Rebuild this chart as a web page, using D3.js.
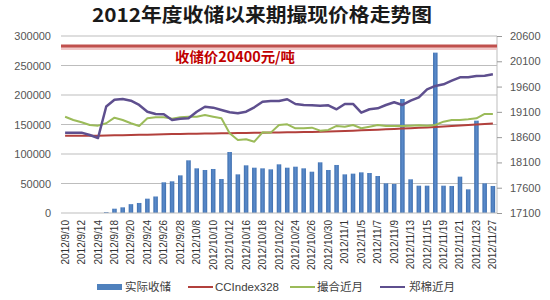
<!DOCTYPE html>
<html>
<head>
<meta charset="utf-8">
<script src="https://cdn.jsdelivr.net/npm/d3@7"></script>
<style>
  body { margin: 0; background: #fff; }
  svg { display: block; }
</style>
</head>
<body>
<svg id="chart"></svg>
<script>
// trading days, 2012/9/10 .. 2012/11/27
const dates = [
  "2012/9/10","2012/9/11","2012/9/12","2012/9/13","2012/9/14","2012/9/17","2012/9/18","2012/9/19",
  "2012/9/20","2012/9/21","2012/9/24","2012/9/25","2012/9/26","2012/9/27","2012/9/28","2012/9/29",
  "2012/10/8","2012/10/9","2012/10/10","2012/10/11","2012/10/12","2012/10/15","2012/10/16","2012/10/17",
  "2012/10/18","2012/10/19","2012/10/22","2012/10/23","2012/10/24","2012/10/25","2012/10/26","2012/10/29",
  "2012/10/30","2012/10/31","2012/11/1","2012/11/2","2012/11/5","2012/11/6","2012/11/7","2012/11/8",
  "2012/11/9","2012/11/12","2012/11/13","2012/11/14","2012/11/15","2012/11/16","2012/11/19","2012/11/20",
  "2012/11/21","2012/11/22","2012/11/23","2012/11/26","2012/11/27"
];

// 实际收储 (left axis)
const storage = [
  0,0,0,0,0,1500,7300,9600,15000,17000,24300,28000,52000,53700,63800,89300,
  75700,72900,74600,57600,103400,65500,80800,76800,75700,74000,82500,76800,78500,75700,70000,85900,
  72900,81400,65500,66700,68900,67800,62700,50300,49200,193200,57100,46300,46300,271800,46300,45800,
  61600,40100,156500,50300,45800
];

// CCIndex328 (right axis)
const ccIndex = [
  18630,18630,18628,18628,18630,18632,18635,18638,18640,18645,18648,18650,18655,18660,18662,18665,
  18668,18670,18672,18675,18678,18680,18682,18685,18688,18690,18692,18695,18698,18700,18702,18705,
  18710,18715,18720,18728,18735,18740,18748,18755,18762,18770,18778,18785,18792,18800,18810,18820,
  18830,18842,18852,18862,18872
];

// 撮合近月 (right axis)
const matchNear = [
  19004,18940,18894,18840,18827,18874,18985,18940,18874,18821,18973,18993,18993,18966,18993,19004,
  19004,19038,19004,18973,18676,18544,18558,18510,18696,18689,18840,18854,18775,18775,18788,18728,
  18742,18821,18807,18840,18775,18807,18840,18821,18821,18821,18827,18834,18827,18840,18906,18940,
  18940,18953,18973,19058,19058
];

// 郑棉近月 (right axis)
const zceNear = [
  18689,18689,18689,18643,18583,19206,19340,19355,19321,19236,19103,19058,19052,18940,18965,18973,
  19103,19202,19183,19137,19092,19072,19103,19190,19301,19315,19315,19349,19256,19236,19230,19222,
  19230,19151,19256,19256,19084,19151,19170,19236,19289,19236,19321,19388,19546,19612,19645,19716,
  19783,19783,19809,19815,19843
];

const storagePrice = 20400;
const leftTicks = [0, 50000, 100000, 150000, 200000, 250000, 300000];
const rightTicks = [17100, 17600, 18100, 18600, 19100, 19600, 20100, 20600];

const title = "2012年度收储以来期撮现价格走势图";
const priceLabel = "收储价20400元/吨";
const legendNames = ["实际收储", "CCIndex328", "撮合近月", "郑棉近月"];

// layout
const width = 550, height = 300;
const plotL = 61, plotR = 497, plotT = 36, plotB = 213;
const numFont = "'Liberation Sans', Arial, sans-serif";
const cjkFont = "'Noto Sans CJK SC', sans-serif";

const svg = d3.select("#chart").attr("width", width).attr("height", height);

const x = d3.scaleBand().domain(dates).range([plotL, plotR])
  .paddingInner(0.45).paddingOuter(0.225);
const yL = d3.scaleLinear().domain([0, 300000]).range([plotB, plotT]);
const yR = d3.scaleLinear().domain([17100, 20600]).range([plotB, plotT]);
const cx = d => x(d) + x.bandwidth() / 2;

// title
svg.append("text")
  .attr("x", 262).attr("y", 22)
  .attr("text-anchor", "middle")
  .attr("textLength", 340).attr("lengthAdjust", "spacingAndGlyphs")
  .style("font-family", cjkFont).style("font-weight", "bold")
  .style("font-size", "19px").style("fill", "#1a1a1a")
  .text(title);

// gridlines
svg.append("g").selectAll("line")
  .data(leftTicks.slice(1))
  .enter().append("line")
  .attr("x1", plotL).attr("x2", plotR)
  .attr("y1", d => yL(d)).attr("y2", d => yL(d))
  .style("stroke", "#bdbdbd").style("stroke-width", 1);

// left axis
const gL = svg.append("g").attr("transform", `translate(${plotL - 10},0)`)
  .call(d3.axisLeft(yL).tickValues(leftTicks).tickFormat(d3.format("d")).tickSize(0).tickPadding(0));
gL.select(".domain").remove();
gL.selectAll("text").style("font-family", numFont).style("font-size", "11px").style("fill", "#555");

// right axis
const gR = svg.append("g").attr("transform", `translate(${plotR},0)`)
  .call(d3.axisRight(yR).tickValues(rightTicks).tickFormat(d3.format("d")).tickSize(5).tickPadding(8));
gR.select(".domain").attr("d", `M0,${plotT}V${plotB}`).style("stroke", "#bdbdbd");
gR.selectAll(".tick line").style("stroke", "#999");
gR.selectAll("text").style("font-family", numFont).style("font-size", "11px").style("fill", "#555");

// bars
const grad = svg.append("defs").append("linearGradient").attr("id", "barGrad")
  .attr("x1", 0).attr("x2", 1).attr("y1", 0).attr("y2", 0);
grad.append("stop").attr("offset", "0%").attr("stop-color", "#3f6fae");
grad.append("stop").attr("offset", "50%").attr("stop-color", "#5a8bcb");
grad.append("stop").attr("offset", "100%").attr("stop-color", "#3f6fae");

svg.append("g").selectAll("rect")
  .data(dates.map((d, i) => ({ d, v: storage[i] })))
  .enter().append("rect")
  .attr("x", p => x(p.d))
  .attr("width", x.bandwidth())
  .attr("y", p => yL(p.v))
  .attr("height", p => plotB - yL(p.v))
  .style("fill", "url(#barGrad)");

// x axis
const gX = svg.append("g").attr("transform", `translate(0,${plotB})`)
  .call(d3.axisBottom(x).tickValues(dates.filter((d, i) => i % 2 === 0)).tickSize(0).tickPadding(0));
gX.select(".domain").attr("d", `M${plotL},0H${plotR}`).style("stroke", "#bdbdbd");
gX.selectAll("text")
  .attr("transform", "rotate(-90)")
  .attr("text-anchor", "end")
  .attr("x", -7).attr("y", 0).attr("dy", "0.35em")
  .style("font-family", numFont).style("font-size", "10px").style("fill", "#333");

// storage price line
svg.append("line")
  .attr("x1", plotL).attr("x2", plotR)
  .attr("y1", yR(storagePrice) + 1.5).attr("y2", yR(storagePrice) + 1.5)
  .style("stroke", "#f0c8c8").style("stroke-width", 5);
svg.append("line")
  .attr("x1", plotL).attr("x2", plotR)
  .attr("y1", yR(storagePrice)).attr("y2", yR(storagePrice))
  .style("stroke", "#c0504d").style("stroke-width", 3);

svg.append("text")
  .attr("x", 175).attr("y", 62)
  .attr("textLength", 120).attr("lengthAdjust", "spacingAndGlyphs")
  .style("font-family", cjkFont).style("font-weight", "bold")
  .style("font-size", "14px").style("fill", "#c00000")
  .text(priceLabel);

// lines
const line = d3.line().x(p => cx(p.d)).y(p => yR(p.v));
const series = [
  { values: ccIndex, color: "#b2403c", w: 2 },
  { values: matchNear, color: "#9bbb59", w: 2 },
  { values: zceNear, color: "#5e4f8e", w: 2.5 }
];
svg.append("g").selectAll("path")
  .data(series)
  .enter().append("path")
  .attr("d", s => line(dates.map((d, i) => ({ d, v: s.values[i] }))))
  .style("fill", "none")
  .style("stroke", s => s.color)
  .style("stroke-width", s => s.w)
  .style("stroke-linejoin", "round");

// legend
const leg = svg.append("g").attr("transform", "translate(0,287)");
leg.append("rect").attr("x", 97).attr("y", -3).attr("width", 25).attr("height", 6).style("fill", "#4f81bd");
const legItems = [
  { x: 188, color: "#b2403c" },
  { x: 290, color: "#9bbb59" },
  { x: 380, color: "#5e4f8e" }
];
leg.selectAll("line").data(legItems).enter().append("line")
  .attr("x1", d => d.x).attr("x2", d => d.x + 25)
  .attr("y1", 0).attr("y2", 0)
  .style("stroke", d => d.color).style("stroke-width", 2);
const legTextX = [125, 215, 317, 409];
leg.selectAll("text").data(legendNames).enter().append("text")
  .attr("x", (d, i) => legTextX[i]).attr("y", 0).attr("dy", "0.35em")
  .style("font-family", (d, i) => i === 1 ? numFont : cjkFont)
  .style("font-size", "11.5px").style("fill", "#404040")
  .text(d => d);
</script>
</body>
</html>
